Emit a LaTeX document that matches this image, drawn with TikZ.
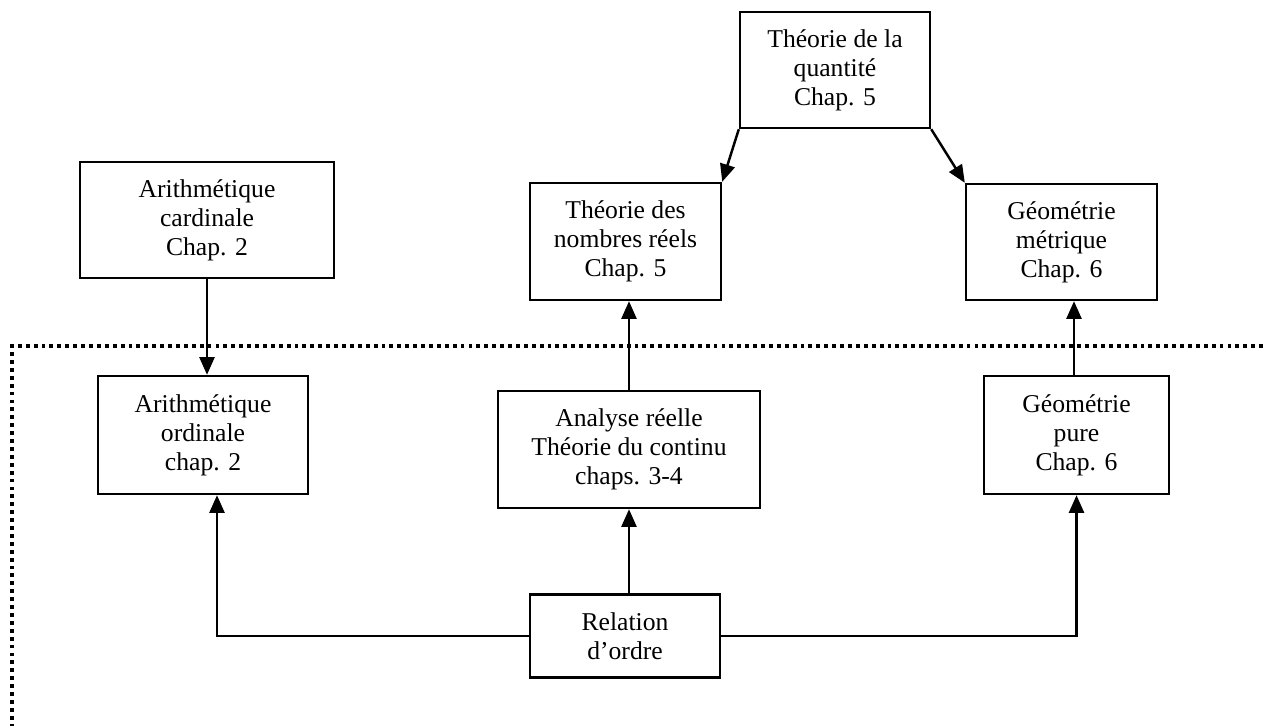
\documentclass[tikz,border=0pt]{standalone}
\usepackage{fontspec}
\setmainfont{Liberation Serif}
\usetikzlibrary{arrows.meta}

\begin{document}
\begin{tikzpicture}[x=0.02cm, y=-0.02cm,
    box/.style={draw, line width=1.4pt, align=center, inner sep=2pt,
        font=\fontsize{14.6}{16.5}\selectfont},
    link/.style={line width=1.4pt, ->},
    >={Triangle[length=10pt, width=8.5pt]}]

        \useasboundingbox (0,0) rectangle (1263,726);

        % Upper row
        \node at (835,70) [box, minimum width=3.8cm, minimum height=2.32cm] (quant) {Théorie de la\\quantité\\Chap. 5};
        \node at (207,220) [box, minimum width=5.08cm, minimum height=2.32cm] (card) {Arithmétique\\cardinale\\Chap. 2};
        \node at (625.5,241.5) [box, minimum width=3.82cm, minimum height=2.34cm] (reels) {Théorie des\\nombres réels\\Chap. 5};
        \node at (1061.5,242) [box, minimum width=3.82cm, minimum height=2.32cm] (metr) {Géométrie\\métrique\\Chap. 6};

        % Dotted border
        \draw [line width=2pt, dash pattern=on 2.2pt off 2.3pt] (1263,346) -- (12,346) -- (12,726);

        % Lower row
        \node at (203,435) [box, minimum width=4.2cm, minimum height=2.36cm] (ordi) {Arithmétique\\ordinale\\chap. 2};
        \node at (629,449.5) [box, minimum width=5.24cm, minimum height=2.34cm] (anal) {Analyse réelle\\Théorie du continu\\chaps. 3-4};
        \node at (1076.5,435) [box, minimum width=3.7cm, minimum height=2.36cm] (pure) {Géométrie\\pure\\Chap. 6};
        \node at (625,636) [box, minimum width=3.8cm, minimum height=1.66cm] (rel) {Relation\\d’ordre};

        % Arrows
        \draw [link] (quant.south west) -- (reels.north east);
        \draw [link] (quant.south east) -- (metr.north west);
        \draw [link] (card.south) -- (card.south |- ordi.north);
        \draw [link] (anal.north) -- (anal.north |- reels.south);
        \draw [link] ([xshift=-0.05cm]pure.north) -- ([xshift=-0.05cm]pure.north |- metr.south);
        \draw [link] (rel.west) -| ([xshift=0.28cm]ordi.south);
        \draw [link] (anal.south |- rel.north) -- (anal.south);
        \draw [link] (rel.east) -| (pure.south);

\end{tikzpicture}
\end{document}
